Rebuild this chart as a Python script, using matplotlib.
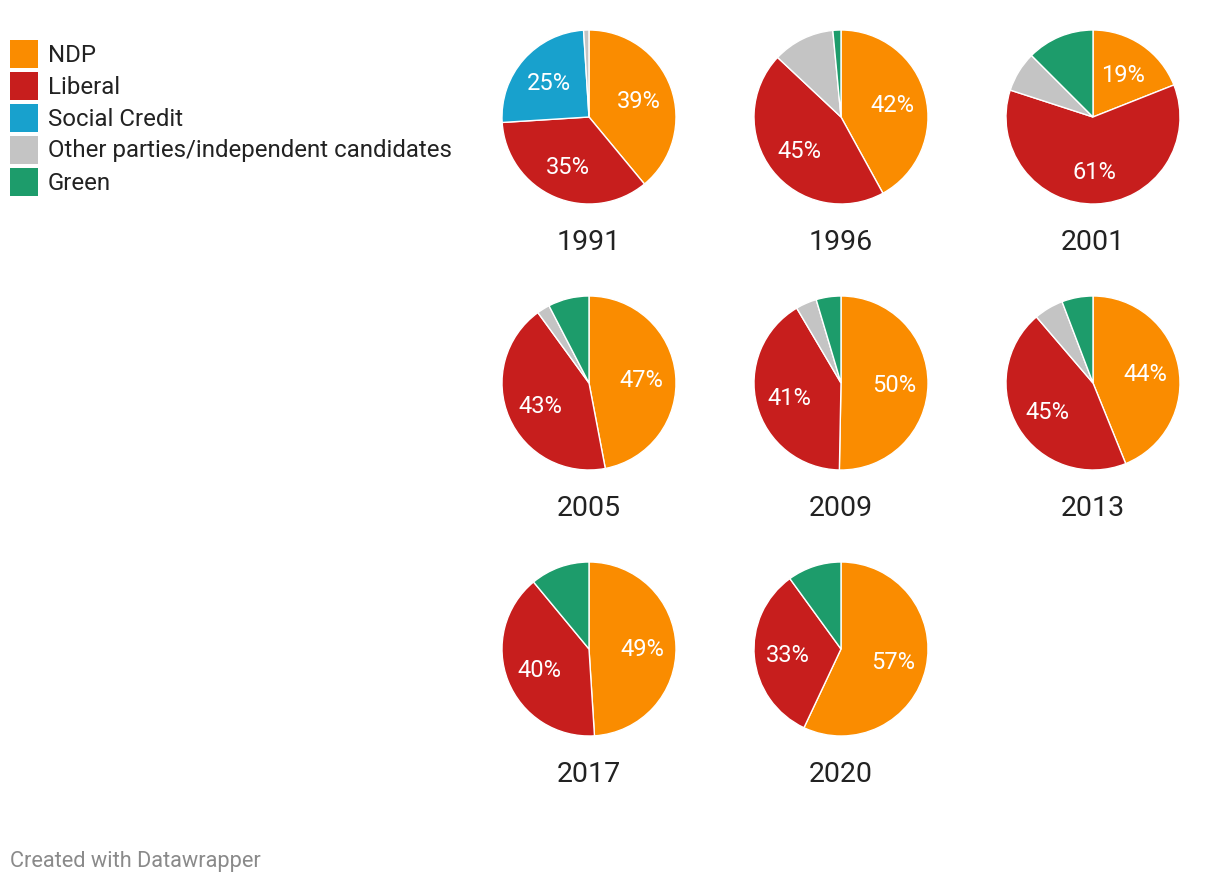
import matplotlib.pyplot as plt
import numpy as np

plt.rcParams['font.family'] = ['Roboto', 'DejaVu Sans']

# data (vote share, %)
years = ['1991', '1996', '2001', '2005', '2009', '2013', '2017', '2020']
parties = ['NDP', 'Liberal', 'Social Credit', 'Other parties/independent candidates', 'Green']
colors = ['#fa8c00', '#c71e1d', '#18a1cd', '#c4c4c4', '#1d9c6b']

ndp = [39, 42, 19, 47, 50.3, 44, 49, 57]
liberal = [35, 45, 61, 43, 41.2, 45, 40, 33]
social_credit = [25, 0, 0, 0, 0, 0, 0, 0]
other = [1, 11.5, 7.5, 2.4, 3.9, 5.5, 0, 0]
green = [0, 1.5, 12.5, 7.6, 4.6, 5.8, 11, 10]

W, H = 1220, 884
fig = plt.figure(figsize=(W / 100, H / 100), dpi=100)
ax = fig.add_axes([0, 0, 1, 1])

R = 87
col_x = [589, 841, 1093]
row_y = [117, 383, 649]

for i, year in enumerate(years):
    cx = col_x[i % 3]
    cy = H - row_y[i // 3]
    vals = [ndp[i], liberal[i], social_credit[i], other[i], green[i]]
    # drop parties with no votes so no empty wedge edge is drawn
    keep = [(v, c) for v, c in zip(vals, colors) if v > 0]
    v_list = [k[0] for k in keep]
    c_list = [k[1] for k in keep]
    total = sum(v_list)
    wedges, texts = ax.pie(v_list, colors=c_list, startangle=90, counterclock=False,
                           center=(cx, cy), radius=R,
                           wedgeprops=dict(edgecolor='white', linewidth=1))
    for w, v in zip(wedges, v_list):
        if v / total * 100 >= 15:
            ang = np.deg2rad((w.theta1 + w.theta2) / 2)
            lx = cx + 0.61 * R * np.cos(ang)
            ly = cy + 0.61 * R * np.sin(ang) - 2
            ax.text(lx, ly, f'{round(v)}%', color='white', fontsize=17,
                    ha='center', va='center')
    ax.text(cx, cy - 126, year, fontsize=20.5, color='#222222',
            ha='center', va='center')

# legend
for j, (name, c) in enumerate(zip(parties, colors)):
    y = H - (54 + 32 * j)
    ax.add_patch(plt.Rectangle((10, y - 14), 28, 28, facecolor=c, edgecolor='none'))
    ax.text(48, y - 1, name, fontsize=17.3, color='#222222', ha='left', va='center')

ax.text(10, H - 861, 'Created with Datawrapper', fontsize=15.7, color='#8a8a8a',
        ha='left', va='center')

ax.set_xlim(0, W)
ax.set_ylim(0, H)
ax.set_aspect('equal')
ax.axis('off')

fig.savefig('out.png', dpi=100, facecolor='white')
